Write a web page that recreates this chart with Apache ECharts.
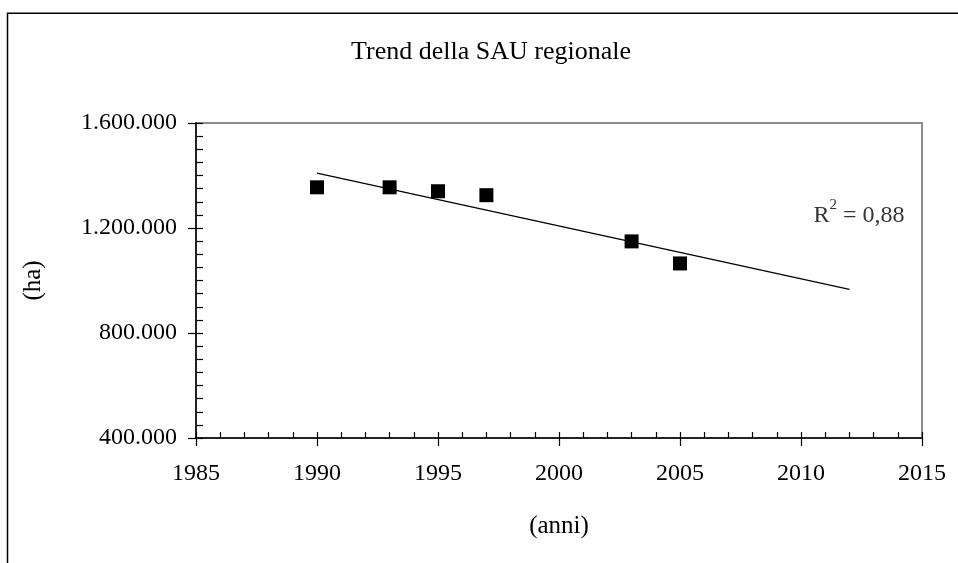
<!DOCTYPE html>
<html>
<head>
<meta charset="utf-8">
<script src="https://cdn.jsdelivr.net/npm/echarts@6/dist/echarts.min.js"></script>
<style>html,body{margin:0;padding:0;background:#fff}#c{width:958px;height:563px}</style>
</head>
<body>
<div id="c"></div>
<script>
// ---- data ----
var years = [1990, 1993, 1995, 1997, 2003, 2005];
var sau = [1355000, 1355000, 1340000, 1325000, 1149000, 1065000];
var trendYears = [1990, 2012];
var trendValues = [1409000, 966000];
var r2Text = '0,88';
var r2Anchor = [2012.4, 1257000];
var titleText = 'Trend della SAU regionale';
var xName = '(anni)';
var yName = '(ha)';
var xMin = 1985, xMax = 2015, xStep = 5;
var yMin = 400000, yMax = 1600000, yStep = 400000;

var FONT = "'Liberation Serif','Times New Roman',serif";
function fmtIt(v) { return String(Math.round(v)).replace(/\B(?=(\d{3})+(?!\d))/g, '.'); }
function fmtYear(v) { return String(Math.round(v)); }

var chart = echarts.init(document.getElementById('c'));
var gridPos = {left: 196, right: 36, top: 123, bottom: 125};
chart.setOption({
  animation: false,
  backgroundColor: '#fff',
  title: {
    text: titleText, left: 486, top: 34, textAlign: 'center',
    textStyle: {fontFamily: FONT, fontSize: 26, fontWeight: 'normal', color: '#000'}
  },
  graphic: [{
    type: 'rect', shape: {x: 7.5, y: 13.25, width: 1100, height: 700},
    style: {fill: 'none', stroke: '#000', lineWidth: 1.5}, silent: true
  }],
  grid: [
    Object.assign({show: true, borderColor: '#8c8c8c', borderWidth: 2, backgroundColor: '#fff'}, gridPos),
    Object.assign({show: false}, gridPos)
  ],
  xAxis: [{
    gridIndex: 0, type: 'value', min: xMin, max: xMax, interval: xStep,
    name: xName, nameLocation: 'middle', nameGap: 76,
    nameTextStyle: {fontFamily: FONT, fontSize: 25, color: '#000'},
    axisLine: {lineStyle: {color: '#000', width: 1.5}},
    axisTick: {show: true, inside: false, length: 8, lineStyle: {color: '#000', width: 1.2}},
    axisLabel: {fontFamily: FONT, fontSize: 24, color: '#000', margin: 24, formatter: fmtYear},
    splitLine: {show: false}
  }, {
    gridIndex: 1, type: 'value', min: xMin, max: xMax, interval: xStep,
    axisLine: {show: false},
    axisTick: {show: true, inside: true, length: 6, lineStyle: {color: '#000', width: 1.2}},
    minorTick: {show: true, splitNumber: 5, length: 6, lineStyle: {color: '#000', width: 1.2}},
    axisLabel: {show: false}, splitLine: {show: false}
  }],
  yAxis: [{
    gridIndex: 0, type: 'value', min: yMin, max: yMax, interval: yStep,
    name: yName, nameLocation: 'middle', nameGap: 150, nameRotate: 90,
    nameTextStyle: {fontFamily: FONT, fontSize: 25, color: '#000'},
    axisLine: {show: true, lineStyle: {color: '#000', width: 1.5}},
    axisTick: {show: true, inside: false, length: 8, lineStyle: {color: '#000', width: 1.2}},
    axisLabel: {fontFamily: FONT, fontSize: 24, color: '#000', margin: 19, formatter: fmtIt},
    splitLine: {show: false}
  }, {
    gridIndex: 1, type: 'value', min: yMin, max: yMax, interval: yStep,
    axisLine: {show: false},
    axisTick: {show: true, inside: true, length: 7, lineStyle: {color: '#000', width: 1.2}},
    minorTick: {show: true, splitNumber: 8, length: 7, lineStyle: {color: '#000', width: 1.2}},
    axisLabel: {show: false}, splitLine: {show: false}
  }],
  series: [{
    type: 'line', xAxisIndex: 0, yAxisIndex: 0,
    data: trendYears.map(function (y, i) { return [y, trendValues[i]]; }),
    showSymbol: false, symbol: 'none',
    lineStyle: {color: '#000', width: 1.3}, z: 3
  }, {
    type: 'scatter', xAxisIndex: 0, yAxisIndex: 0,
    data: years.map(function (y, i) { return [y, sau[i]]; }),
    symbol: 'rect', symbolSize: 14,
    itemStyle: {color: '#000', opacity: 1}, z: 4
  }, {
    type: 'scatter', xAxisIndex: 0, yAxisIndex: 0,
    data: [r2Anchor], symbolSize: 0, silent: true,
    label: {
      show: true, position: 'inside',
      formatter: '{r|R}{s|2}{r| = ' + r2Text + '}',
      rich: {
        r: {fontFamily: FONT, fontSize: 24, color: '#000', lineHeight: 30, verticalAlign: 'bottom'},
        s: {fontFamily: FONT, fontSize: 15, color: '#000', lineHeight: 30, verticalAlign: 'top'}
      }
    }
  }]
});
</script>
</body>
</html>
